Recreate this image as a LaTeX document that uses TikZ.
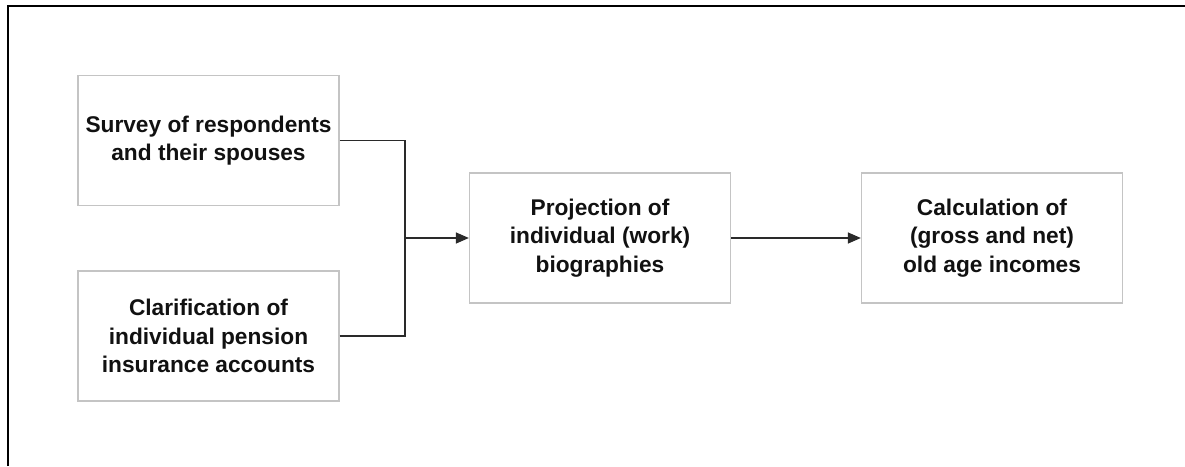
\documentclass[tikz,border=0pt]{standalone}
\usepackage{fontspec}
\setmainfont{Liberation Sans}
\usetikzlibrary{arrows.meta}
\definecolor{boxgray}{HTML}{C4C4C4}
\definecolor{linegray}{HTML}{2A2A2A}
\definecolor{txt}{HTML}{111111}
\begin{document}
\begin{tikzpicture}[x=1pt,y=1pt,
  procbox/.style={draw=boxgray, line width=1.3pt, fill=white, align=center,
    minimum width=261pt, minimum height=130pt, inner sep=0pt, text=txt,
    font=\fontsize{22.7}{28.5}\selectfont\bfseries},
  conn/.style={draw=linegray, line width=1.4pt},
  arr/.style={conn, -{Triangle[length=13pt,width=11pt]}}]
\useasboundingbox (0,0) rectangle (1185,-466);
\fill[white] (0,0) rectangle (1185,-466);
% frame
\draw[line width=2pt, black] (8,-466) -- (8,-6) -- (1185,-6);
% boxes
\node[procbox] (b1) at (208.5,-140.5) {Survey of respondents\\and their spouses};
\node[procbox] (b2) at (208.5,-336) {Clarification of\\individual pension\\insurance accounts};
\node[procbox] (b3) at (600,-238) {Projection of\\individual (work)\\biographies};
\node[procbox] (b4) at (992,-238) {Calculation of\\(gross and net)\\old age incomes};
% connectors
\coordinate (j) at (405,-238);
\draw[conn] (b1.east) -| (j);
\draw[conn] (b2.east) -| (j);
\draw[arr] (j) -- (b3.west);
\draw[arr] (b3.east) -- (b4.west);
\end{tikzpicture}
\end{document}
